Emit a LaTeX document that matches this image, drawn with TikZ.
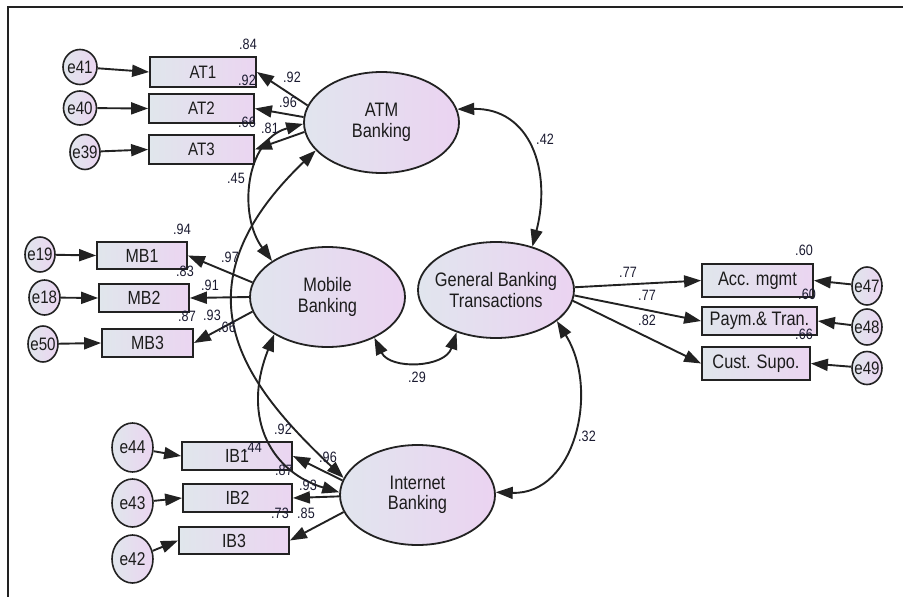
\documentclass[tikz,border=0pt]{standalone}
\usepackage{fontspec}
\setmainfont{Liberation Sans}
\newfontfamily\amos[FakeStretch=0.84]{Liberation Sans}
\usetikzlibrary{arrows.meta,shapes.geometric}
\definecolor{latL}{HTML}{E1E5EE}
\definecolor{latR}{HTML}{EBD3F1}
\definecolor{boxL}{HTML}{E0E6EC}
\definecolor{boxR}{HTML}{EBD5F1}
\definecolor{edge}{HTML}{222222}
\definecolor{txt}{HTML}{1C1C1C}
\definecolor{labc}{HTML}{1A1A30}
\begin{document}
\begin{tikzpicture}[x=1pt,y=-1pt,
  lat/.style={ellipse,draw=edge,line width=1.8pt,left color=latL,right color=latR,inner sep=0pt},
  lattxt/.style={font=\amos\fontsize{19.5}{20.5}\selectfont,align=center,text=txt,inner sep=0pt},
  obs/.style={rectangle,draw=edge,line width=1.8pt,left color=boxL,right color=boxR,inner sep=0pt},
  obstxt/.style={font=\amos\fontsize{19}{19}\selectfont,text=txt,inner sep=0pt},
  err/.style={ellipse,draw=edge,line width=1.6pt,left color=boxL,right color=boxR,inner sep=0pt},
  errtxt/.style={font=\amos\fontsize{18}{18}\selectfont,text=txt,inner sep=0pt},
  lab/.style={font=\amos\fontsize{15}{15}\selectfont,text=labc,inner sep=0pt},
  path1/.style={line width=1.9pt,draw=edge,-{Triangle[length=17pt,width=12pt]}},
  cov/.style={line width=1.9pt,draw=edge,{Triangle[length=17pt,width=12pt]}-{Triangle[length=17pt,width=12pt]}}
]
\useasboundingbox (0,0) rectangle (903,597);
\draw[line width=1.3pt,draw=edge] (8,597) -- (8,7) -- (903,7);

% latent variables
\node[lat,minimum width=155pt,minimum height=101pt] (atm) at (381.5,122.5) {};
\node[lattxt] (atmT) at (atm) {ATM\\Banking};
\node[lat,minimum width=155pt,minimum height=100pt] (mb) at (327.5,297) {};
\node[lattxt] (mbT) at (mb) {Mobile\\Banking};
\node[lat,minimum width=156pt,minimum height=96pt] (gbt) at (496,290) {};
\node[lattxt] (gbtT) at (gbt) {General Banking\\Transactions};
\node[lat,minimum width=155pt,minimum height=100pt] (ib) at (417.5,495) {};
\node[lattxt] (ibT) at (ib) {Internet\\Banking};

% observed variables
\node[obs,minimum width=106pt,minimum height=30pt] (at1) at (203,72) {};
\node[obstxt,font=\amos\fontsize{18}{18}\selectfont] (at1T) at (at1) {AT1};
\node[obs,minimum width=105pt,minimum height=29pt] (at2) at (201.5,108.5) {};
\node[obstxt,font=\amos\fontsize{18}{18}\selectfont] (at2T) at (at2) {AT2};
\node[obs,minimum width=105pt,minimum height=29pt] (at3) at (201.5,149.5) {};
\node[obstxt,font=\amos\fontsize{18}{18}\selectfont] (at3T) at (at3) {AT3};

\node[obs,minimum width=90pt,minimum height=27pt] (mb1) at (142,255.5) {};
\node[obstxt] (mb1T) at (mb1) {MB1};
\node[obs,minimum width=90pt,minimum height=28pt] (mb2) at (144,298) {};
\node[obstxt] (mb2T) at (mb2) {MB2};
\node[obs,minimum width=91pt,minimum height=28pt] (mb3) at (147.5,343) {};
\node[obstxt] (mb3T) at (mb3) {MB3};

\node[obs,minimum width=110pt,minimum height=28pt] (ib1) at (237,456) {};
\node[obstxt] (ib1T) at (ib1) {IB1};
\node[obs,minimum width=109pt,minimum height=28pt] (ib2) at (237.5,498) {};
\node[obstxt] (ib2T) at (ib2) {IB2};
\node[obs,minimum width=110pt,minimum height=27pt] (ib3) at (234,540.5) {};
\node[obstxt] (ib3T) at (ib3) {IB3};

\node[obs,minimum width=111pt,minimum height=33pt] (acc) at (757.5,280.5) {};
\node[obstxt,font=\amos\fontsize{19.5}{19.5}\selectfont] (accT) at (acc) {Acc. mgmt};
\node[obs,minimum width=115pt,minimum height=28pt] (pay) at (759.5,321) {};
\node[obstxt,font=\amos\fontsize{19.5}{19.5}\selectfont] (payT) at (pay) {Paym.\& Tran.};
\node[obs,minimum width=108pt,minimum height=33pt] (cus) at (756,363.5) {};
\node[obstxt,font=\amos\fontsize{19.5}{19.5}\selectfont] (cusT) at (cus) {Cust. Supo.};

% error terms
\node[err,minimum width=34pt,minimum height=35pt] (e41) at (80,67) {};
\node[errtxt] (e41T) at (e41) {e41};
\node[err,minimum width=33pt,minimum height=34pt] (e40) at (80,108) {};
\node[errtxt] (e40T) at (e40) {e40};
\node[err,minimum width=30pt,minimum height=35pt] (e39) at (85,152) {};
\node[errtxt] (e39T) at (e39) {e39};
\node[err,minimum width=30pt,minimum height=35pt] (e19) at (40,254.5) {};
\node[errtxt] (e19T) at (e19) {e19};
\node[err,minimum width=31pt,minimum height=35pt] (e18) at (44.5,297.5) {};
\node[errtxt] (e18T) at (e18) {e18};
\node[err,minimum width=30pt,minimum height=36pt] (e50) at (43,344) {};
\node[errtxt] (e50T) at (e50) {e50};
\node[err,minimum width=30pt,minimum height=38pt] (e47) at (867,286) {};
\node[errtxt] (e47T) at (e47) {e47};
\node[err,minimum width=30pt,minimum height=36pt] (e48) at (867,327) {};
\node[errtxt] (e48T) at (e48) {e48};
\node[err,minimum width=30pt,minimum height=33pt] (e49) at (867,368) {};
\node[errtxt] (e49T) at (e49) {e49};
\node[err,minimum width=41pt,minimum height=49pt] (e44) at (132.5,447.5) {};
\node[errtxt,font=\amos\fontsize{18.5}{18.5}\selectfont] (e44T) at (e44) {e44};
\node[err,minimum width=41pt,minimum height=48pt] (e43) at (132.5,503) {};
\node[errtxt,font=\amos\fontsize{18.5}{18.5}\selectfont] (e43T) at (e43) {e43};
\node[err,minimum width=41pt,minimum height=48pt] (e42) at (132.5,559) {};
\node[errtxt,font=\amos\fontsize{18.5}{18.5}\selectfont] (e42T) at (e42) {e42};

% error arrows
\draw[path1] (e41) -- (at1.west);
\draw[path1] (e40) -- (at2.west);
\draw[path1] (e39) -- (at3.west);
\draw[path1] (e19) -- (mb1.west);
\draw[path1] (e18) -- (mb2.west);
\draw[path1] (e50) -- (mb3.west);
\draw[path1] (e47) -- (acc.east);
\draw[path1] (e48) -- (pay.east);
\draw[path1] (e49) -- (cus.east);
\draw[path1] (e44) -- (ib1.west);
\draw[path1] (e43) -- (ib2.west);
\draw[path1] (e42) -- (ib3.west);

% loadings
\draw[path1] (atm.167) -- (at1.east);
\draw[path1] (atm.176) -- (at2.east);
\draw[path1] (atm.187) -- (at3.east);
\draw[path1] (mb.169) -- (mb1.east);
\draw[path1] (mb.180) -- (mb2.east);
\draw[path1] (mb.191) -- (mb3.east);
\draw[path1] (gbt.2) -- (acc.west);
\draw[path1] (gbt.356) -- (pay.west);
\draw[path1] (gbt.352) -- (cus.west);
\draw[path1] (ib.169) -- (ib1.east);
\draw[path1] (ib.181) -- (ib2.east);
\draw[path1] (ib.193) -- (ib3.east);

% covariances
\draw[cov] (atm.181) .. controls (245,140) and (238,215) .. (mb.147);
\draw[cov] (atm.203) .. controls (170,290) and (245,385) .. (ib.167);
\draw[cov] (mb.215) .. controls (240,421) and (274,473) .. (ib.178);
\draw[cov] (atm.10) .. controls (530,108) and (552,170) .. (gbt.50);
\draw[cov] (gbt.333) .. controls (600,390) and (575,495) .. (ib.2);
\draw[cov] (mb.319) .. controls (390,370) and (445,368) .. (gbt.227);

% labels
\node[lab] (l1) at (248,44) {.84};
\node[lab] (l2) at (247,80) {.92};
\node[lab] (l3) at (292,77) {.92};
\node[lab] (l4) at (288,102) {.96};
\node[lab] (l5) at (247,122) {.66};
\node[lab] (l6) at (270,128) {.81};
\node[lab] (l7) at (236,178) {.45};
\node[lab] (l8) at (182,229) {.94};
\node[lab] (l9) at (230,257) {.97};
\node[lab] (l10) at (185,271) {.83};
\node[lab] (l11) at (210,285) {.91};
\node[lab] (l12) at (187,316) {.87};
\node[lab] (l13) at (212,315) {.93};
\node[lab] (l14) at (227,327) {.66};
\node[lab] (l15) at (417,377) {.29};
\node[lab] (l16) at (545,139) {.42};
\node[lab] (l17) at (587,436) {.32};
\node[lab] (l18) at (628,272) {.77};
\node[lab] (l19) at (647,295) {.77};
\node[lab] (l20) at (647,320) {.82};
\node[lab] (l21) at (804,250) {.60};
\node[lab] (l22) at (807,294) {.60};
\node[lab] (l23) at (804,334) {.66};
\node[lab] (l24) at (283,429) {.92};
\node[lab] (l25) at (253,447) {.44};
\node[lab] (l26) at (328,457) {.96};
\node[lab] (l27) at (284,470) {.87};
\node[lab] (l28) at (308,485) {.93};
\node[lab] (l29) at (280,513) {.73};
\node[lab] (l30) at (306,513) {.85};
\end{tikzpicture}
\end{document}
